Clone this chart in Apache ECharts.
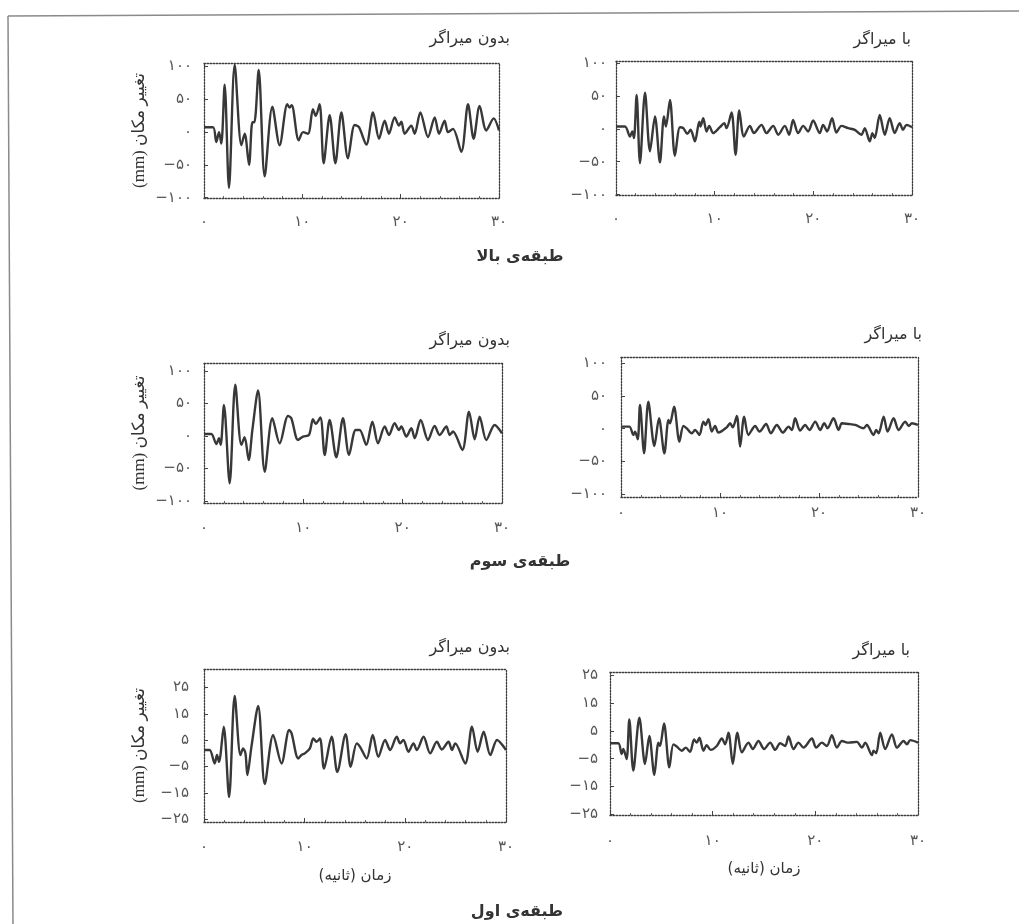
<!DOCTYPE html>
<html lang="fa">
<head>
<meta charset="utf-8">
<title>تغییر مکان طبقات</title>
<script src="https://cdn.jsdelivr.net/npm/echarts@6/dist/echarts.min.js"></script>
<style>
  html, body { margin: 0; padding: 0; background: #ffffff; }
  #chart { width: 1019px; height: 924px; }
</style>
</head>
<body>
<div id="chart"></div>
<script>
// ---- time axis (seconds) ----
const timeMin = 0;
const timeMax = 30;
const timeStep = 10;

// ---- displacement tick values (mm) ----
const upperTicks = [-100, -50, 0, 50, 100];
const firstTicks = [-25, -15, -5, 5, 15, 25];

// ---- displacement histories: [time (s), displacement (mm)] ----
// top floor, without damper
const topUndamped = [
  [0, 7.5], [0.92, 7.5], [1.25, -15], [1.53, 0], [1.76, -17.5], [2.1, 72.5], [2.54, -85],
  [3.12, 103], [3.8, -20], [4.14, -2.5], [4.58, -50], [4.92, 15], [5.12, 15], [5.56, 95],
  [6.17, -67.5], [6.95, 39], [7.69, -20], [8.47, 42.5], [8.71, 37.5], [8.92, 41], [9.63, -12.5],
  [10.07, 0], [10.58, -2.5], [11.08, 35], [11.36, 25], [11.76, 42.5], [12.17, -47.5], [12.78, 26],
  [13.36, -47.5], [13.97, 30], [14.64, -40], [15.32, 11], [15.76, 7.5], [16.51, -19], [17.19, 30],
  [17.8, -10], [18.37, 17.5], [18.81, -2.5], [19.39, 22.5], [19.83, 10], [20.07, 16], [20.41, -2.5],
  [21.08, 10], [21.42, -2.5], [22.0, 30], [22.78, -7.5], [23.46, 22.5], [23.9, -2.5], [24.47, 17.5],
  [24.81, 0], [25.32, 5], [26.17, -30], [26.85, 42.5], [27.42, -10], [28.03, 40], [28.71, 2.5],
  [29.46, 21], [30, 2.5]
];
// top floor, with damper
const topDamped = [
  [0, 3.5], [0.91, 3.5], [1.42, -11.6], [1.65, -4], [1.82, -14], [2.09, 51.5], [2.43, -52],
  [2.94, 55], [3.44, -34], [3.95, 18.7], [4.45, -51], [4.86, 18.7], [5.06, 3.5], [5.47, 44],
  [5.97, -41], [6.48, 2.5], [6.82, 1], [7.22, -7.6], [7.56, -1.5], [8.0, -19], [8.44, 11],
  [8.57, 3.5], [8.84, 16], [9.18, -4], [9.45, 4.5], [9.85, -6.5], [10.53, 2.5], [10.97, 8.6],
  [11.2, 1], [11.71, 24.7], [12.12, -39.4], [12.49, 27.8], [12.96, -11.6], [13.57, 4.5],
  [13.97, -6.5], [14.75, 6], [15.25, -6.5], [15.93, 4.5], [16.44, -9], [17.11, 4.5], [17.55, -9],
  [17.95, 13.6], [18.46, -6.5], [18.97, 4.5], [19.47, -4], [19.98, 12.6], [20.65, -6.5], [20.99, 6],
  [21.4, -4], [21.9, 16], [22.34, -5.6], [22.85, 4.5], [23.52, 1], [24.2, -1.5], [24.87, -9],
  [25.21, 1], [25.72, -19], [25.99, -6.5], [26.22, -14], [26.73, 21], [27.24, -9], [27.74, 16],
  [28.25, -6.5], [28.75, 8.6], [29.09, -1.5], [29.43, 6], [30, 2.5]
];
// third floor, without damper
const thirdUndamped = [
  [0, 3], [0.74, 3], [1.24, -12.3], [1.51, -3.6], [1.68, -13.8], [2.01, 47.7], [2.58, -72.8],
  [3.15, 78.5], [3.76, -13.8], [4.09, -2], [4.5, -36.9], [4.87, 9.2], [5.44, 69.7], [6.11, -54.9],
  [6.88, 27.2], [7.62, -11.3], [8.46, 30.8], [8.79, 27.2], [9.46, -6.2], [9.97, -1], [10.57, 1.5],
  [10.97, 25.6], [11.24, 18.5], [11.71, 28.2], [12.15, -29.2], [12.65, 24.6], [13.32, -32.8],
  [13.99, 27.2], [14.6, -29.2], [15.27, 9.2], [15.67, 9.2], [16.34, -13.8], [16.95, 22],
  [17.52, -11.3], [18.19, 14.4], [18.62, 1.5], [19.19, 19.5], [19.63, 9.2], [19.87, 14.4],
  [20.37, -1], [20.87, 11.8], [21.21, -3.6], [21.81, 24.6], [22.55, -6.2], [23.22, 15.4],
  [23.72, 1.5], [24.4, 14.4], [24.73, 1.5], [25.07, 6.7], [26.01, -21.5], [26.68, 37.4],
  [27.25, -5.1], [27.75, 29.7], [28.42, -6.2], [29.26, 16.9], [30, 4]
];
// third floor, with damper
const thirdDamped = [
  [0, 3], [0.84, 3], [1.25, -9.6], [1.42, -4.6], [1.69, -16.2], [1.92, 36], [2.33, -37.6],
  [2.76, 41.1], [3.37, -26.4], [3.84, 15.7], [4.38, -37.6], [4.79, 13.2], [4.95, 8.1], [5.36, 33.5],
  [5.9, -19.8], [6.3, 4.1], [6.64, 0.5], [7.15, -7.1], [7.48, -2], [7.92, -9.6], [8.32, 10.7],
  [8.53, 5.6], [8.83, 14.2], [9.17, -4.6], [9.5, 4.1], [9.84, -6.1], [10.68, 2], [11.02, 8.1],
  [11.29, 2], [11.7, 19.3], [12.03, -27.4], [12.44, 18.3], [12.87, -9.6], [13.55, 4.1],
  [13.99, -4.6], [14.66, 7.1], [15.13, -7.1], [15.74, 5.6], [16.35, -6.1], [16.92, 3], [17.26, -2],
  [17.59, 15.7], [18.1, -3], [18.6, 5.6], [19.04, -2], [19.62, 10.7], [20.12, -2], [20.53, 8.1],
  [20.86, 0.5], [21.47, 15.7], [21.98, -2], [22.31, 8.1], [22.99, 7.1], [23.66, 5.6], [24.5, 0.5],
  [24.84, 5.6], [25.51, -9.6], [25.78, -2], [26.02, -7.1], [26.53, 18.3], [26.93, -4.6],
  [27.54, 15.7], [28.04, -2], [28.72, 10.7], [29.06, 4.1], [29.39, 8.1], [30, 5.6]
];
// first floor, without damper
const firstUndamped = [
  [0, 1.3], [0.56, 1.3], [1.06, -3.8], [1.29, -0.6], [1.49, -3.2], [1.96, 10.1], [2.49, -16.5],
  [3.05, 21.8], [3.62, -0.6], [3.88, 1.9], [4.12, 0], [4.31, -8.2], [4.71, 2.5], [5.38, 18],
  [6.04, -11.6], [6.87, 7], [7.7, -3.8], [8.46, 8.9], [8.7, 7.6], [9.36, -1.9], [9.69, -0.6],
  [10.02, 0], [10.52, 1.9], [10.85, 5.7], [11.18, 4.4], [11.52, 5.7], [11.92, -5.7], [12.68, 6.3],
  [13.24, -7], [14.07, 7.3], [14.57, -5.1], [15.17, 3.8], [15.5, 2.5], [16.16, -1.9], [16.76, 7],
  [17.32, -1.3], [17.99, 5.1], [18.49, 1.3], [19.15, 6.3], [19.48, 3.8], [19.81, 5.1], [20.31, 0.6],
  [20.81, 3.8], [21.14, 1.3], [21.81, 6.3], [22.47, 0], [23.13, 4.4], [23.63, 1.5], [24.29, 4.4],
  [24.63, 1.3], [24.96, 3.8], [25.95, -3.8], [26.62, 10.1], [27.18, 0.6], [27.78, 8.2],
  [28.44, -0.6], [29.11, 5.1], [30, 1.3]
];
// first floor, with damper
const firstDamped = [
  [0, 0.6], [0.81, 0.6], [1.14, -3.3], [1.3, -1.5], [1.62, -5.1], [1.88, 9.2], [2.27, -9.3],
  [2.86, 9.8], [3.41, -6.9], [3.83, 3.2], [4.32, -10.8], [4.71, 0.8], [4.87, -0.4], [5.26, 7.7],
  [5.78, -8.1], [6.17, 0.2], [6.5, -0.6], [6.99, -2.1], [7.38, -1], [7.8, -2.5], [8.19, 2],
  [8.45, 0.8], [8.71, 2.6], [9.1, -2.1], [9.42, -0.1], [9.81, -1.8], [10.4, -0.4], [10.89, 2.3],
  [11.21, 0.2], [11.54, 4.4], [11.96, -6.9], [12.41, 4.4], [12.84, -2.7], [13.49, 0.8],
  [13.91, -1.5], [14.46, 1.4], [15.01, -1.5], [15.6, 0.8], [16.09, -1.8], [16.57, 0.6],
  [17.06, -0.4], [17.39, 3], [17.87, -1.5], [18.36, 0.8], [18.85, -1], [19.66, 2.3], [20.08, -1],
  [20.64, 0.8], [21.12, -0.4], [21.61, 3.5], [22.1, -1], [22.59, 1.4], [23.24, 0.8], [24.05, 1.1],
  [24.54, -1], [24.86, 0.8], [25.51, -3.7], [25.67, -2.1], [25.93, -3], [26.32, 4.4], [26.81, -1.5],
  [27.46, 3.8], [27.95, -1], [28.6, 1.4], [28.92, 0.2], [29.25, 1.7], [30, 0.8]
];

// ---- text ----
const titleUndamped = 'بدون میراگر';
const titleDamped = 'با میراگر';
const floorNames = ['طبقه\u200Cی بالا', 'طبقه\u200Cی سوم', 'طبقه\u200Cی اول'];
const yName = '(mm) تغییر مکان';
const xName = 'زمان (ثانیه)';

// ---- panel layout (pixels) ----
const panels = [
  { data: topUndamped,   ticks: upperTicks, yMin: -100.5, yMax: 105.5, left: 204, top: 63,  width: 295, height: 135, xMargin: 17, yMargin: 12, yTitle: true,  xTitle: false, title: titleUndamped, tx: 510, ty: 39 },
  { data: topDamped,     ticks: upperTicks, yMin: -100.5, yMax: 103,   left: 616, top: 61,  width: 296, height: 134, xMargin: 17, yMargin: 9,  yTitle: false, xTitle: false, title: titleDamped,   tx: 911, ty: 40 },
  { data: thirdUndamped, ticks: upperTicks, yMin: -103,   yMax: 112,   left: 204, top: 363, width: 298, height: 140, xMargin: 18, yMargin: 12, yTitle: true,  xTitle: false, title: titleUndamped, tx: 510, ty: 341 },
  { data: thirdDamped,   ticks: upperTicks, yMin: -104,   yMax: 109,   left: 621, top: 357, width: 297, height: 140, xMargin: 9,  yMargin: 14, yTitle: false, xTitle: false, title: titleDamped,   tx: 922, ty: 335 },
  { data: firstUndamped, ticks: firstTicks, yMin: -26,    yMax: 32,    left: 204, top: 669, width: 302, height: 153, xMargin: 18, yMargin: 15, yTitle: true,  xTitle: true,  title: titleUndamped, tx: 510, ty: 648 },
  { data: firstDamped,   ticks: firstTicks, yMin: -25.3,  yMax: 26.3,  left: 610, top: 672, width: 308, height: 143, xMargin: 19, yMargin: 12, yTitle: false, xTitle: true,  title: titleDamped,   tx: 910, ty: 651 }
];
const floorLabelPos = [[520, 257], [520, 562], [517, 912]];

// Persian digits for tick labels
const faDigits = '۰۱۲۳۴۵۶۷۸۹';
function toFa(v) {
  return String(v).replace('-', '−').replace(/\d/g, d => faDigits[+d]);
}

const fontFa = '"DejaVu Sans", "Noto Sans", sans-serif';
const fontName = '"Liberation Serif", "DejaVu Serif", "DejaVu Sans", serif';
const ink = '#383838';
const frameLine = { type: [1.5, 1.5], color: '#3c3c3c', width: 1.3 };

const grids = [], xAxes = [], yAxes = [], series = [];

panels.forEach(p => {
  grids.push({ left: p.left, top: p.top, width: p.width, height: p.height, containLabel: false, outerBoundsMode: 'none' });
});

// bottom time axes
panels.forEach((p, i) => {
  xAxes.push({
    type: 'value', gridIndex: i, position: 'bottom',
    min: timeMin, max: timeMax, interval: timeStep,
    axisLine: { show: true, onZero: false, lineStyle: frameLine },
    axisTick: { show: true, inside: true, length: 4, lineStyle: { color: '#444' } },
    minorTick: { show: true, splitNumber: 5, length: 2, lineStyle: { color: '#666' } },
    splitLine: { show: false },
    axisLabel: { formatter: toFa, margin: p.xMargin, color: '#555', fontSize: 15, fontFamily: fontFa },
    name: p.xTitle ? xName : '',
    nameLocation: 'middle', nameGap: 47,
    nameTextStyle: { fontSize: 15, color: '#333', fontFamily: fontFa }
  });
});
// top frame edges
panels.forEach((p, i) => {
  xAxes.push({
    type: 'value', gridIndex: i, position: 'top',
    min: timeMin, max: timeMax,
    axisLine: { show: true, onZero: false, lineStyle: frameLine },
    axisTick: { show: false }, axisLabel: { show: false }, splitLine: { show: false }
  });
});
// left displacement axes
panels.forEach((p, i) => {
  yAxes.push({
    type: 'value', gridIndex: i, position: 'left',
    min: p.yMin, max: p.yMax,
    axisLine: { show: true, onZero: false, lineStyle: frameLine },
    axisTick: { show: true, inside: true, length: 4, customValues: p.ticks, lineStyle: { color: '#444' } },
    splitLine: { show: false },
    axisLabel: { customValues: p.ticks, formatter: toFa, margin: p.yMargin, color: '#555', fontSize: 15, fontFamily: fontFa },
    name: p.yTitle ? yName : '',
    nameLocation: 'middle', nameGap: 56, nameRotate: 90,
    nameTextStyle: { fontSize: 17, color: '#333', fontFamily: fontName }
  });
});
// right frame edges
panels.forEach((p, i) => {
  yAxes.push({
    type: 'value', gridIndex: i, position: 'right',
    min: p.yMin, max: p.yMax,
    axisLine: { show: true, onZero: false, lineStyle: frameLine },
    axisTick: { show: false }, axisLabel: { show: false }, splitLine: { show: false }
  });
});

panels.forEach((p, i) => {
  series.push({
    type: 'line', xAxisIndex: i, yAxisIndex: i,
    data: p.data, showSymbol: false, smooth: 0.3,
    lineStyle: { color: ink, width: 2.4 },
    animation: false, silent: true
  });
});

// panel captions, floor labels and the page frame
const graphics = [];
panels.forEach(p => {
  graphics.push({
    type: 'text',
    style: { text: p.title, x: p.tx, y: p.ty, align: 'right', verticalAlign: 'middle',
             fontSize: 16, fontFamily: fontFa, fill: '#333' }
  });
});
floorNames.forEach((name, k) => {
  graphics.push({
    type: 'text',
    style: { text: name, x: floorLabelPos[k][0], y: floorLabelPos[k][1], align: 'center', verticalAlign: 'middle',
             fontSize: 16, fontWeight: 'bold', fontFamily: fontFa, fill: '#333' }
  });
});
graphics.push({ type: 'line', shape: { x1: 8, y1: 16, x2: 1019, y2: 11 }, style: { stroke: '#8a8a8a', lineWidth: 1.5 } });
graphics.push({ type: 'line', shape: { x1: 8, y1: 16, x2: 13, y2: 924 }, style: { stroke: '#8a8a8a', lineWidth: 1.5 } });

const chart = echarts.init(document.getElementById('chart'), null, { renderer: 'canvas' });
chart.setOption({
  backgroundColor: '#ffffff',
  animation: false,
  grid: grids,
  xAxis: xAxes,
  yAxis: yAxes,
  series: series,
  graphic: graphics
});
</script>
</body>
</html>
